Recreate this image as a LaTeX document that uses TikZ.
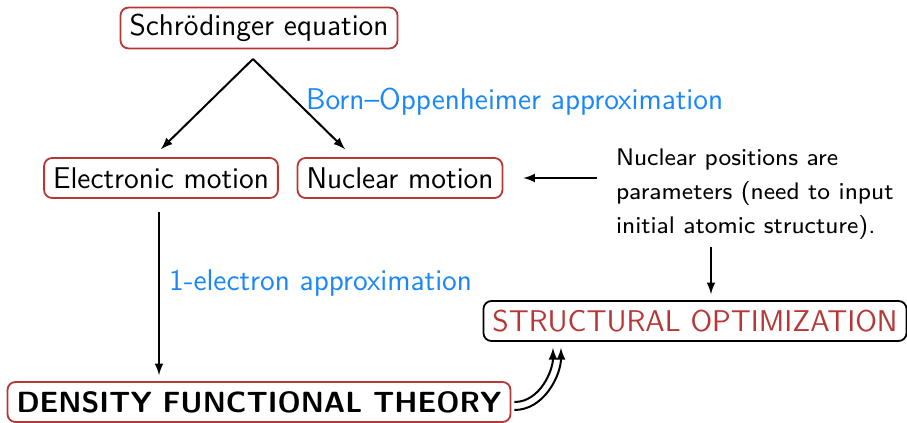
\documentclass[tikz,border=0pt]{standalone}
\usepackage{fontspec}
\usepackage{tikz}
\usetikzlibrary{arrows, positioning, calc}
\usepackage{xcolor}

\newfontfamily\boxfont[BoldFont=lmsans10-bold.otf, Ligatures=TeX]{lmsans12-regular.otf}
\newfontfamily\notefont[Ligatures=TeX]{lmsans8-regular.otf}

\definecolor{boxred}{RGB}{183,55,55}
\definecolor{apxblue}{RGB}{25,135,250}

\begin{document}
\begin{tikzpicture}[
    x=0.5pt, y=-0.5pt,
    every node/.style={font=\boxfont\fontsize{15}{17}\selectfont},
    box/.style={draw=#1, rounded corners=4pt, line width=0.9pt, inner xsep=4.5pt, minimum height=20pt},
    box/.default=boxred,
    apx/.style={text=apxblue, anchor=west},
    note/.style={font=\notefont\fontsize{12}{17}\selectfont, align=left, anchor=west},
    arr/.style={-latex, line width=1pt},
]
    \useasboundingbox (0,0) rectangle (907,423);

    % Main chain
    \node[box] (schr) at (259,28) {Schrödinger equation};
    \node[box] (elec) at (161,178) {Electronic motion};
    \node[box] (nucl) at (400,178) {Nuclear motion};
    \node[box, font=\boxfont\bfseries\fontsize{14.6}{17}\selectfont] (dft) at (259,402) {DENSITY FUNCTIONAL THEORY};
    \node[box=black, text=boxred] (struct) at (695,321) {STRUCTURAL OPTIMIZATION};

    % Approximations
    \node[apx] (bo) at (299,102) {Born–Oppenheimer approximation};
    \node[apx] (one) at (162,283) {1-electron approximation};

    % Remark on the nuclei
    \node[note] (rem) at (609,194) {Nuclear positions are\\parameters (need to input\\initial atomic structure).};

    % Arrows
    \coordinate (split) at (253,59);
    \draw[arr] (split) -- ([yshift=4pt]elec.north);
    \draw[arr] (split) -- ([xshift=-27.5pt, yshift=4pt]nucl.north);
    \draw[arr, shorten <=6.5pt, shorten >=3pt] ([xshift=-1pt]elec.south) -- ([xshift=-1pt]elec.south |- dft.north);
    \draw[arr, shorten <=6pt, shorten >=10pt] (rem.west |- nucl.east) -- (nucl.east);
    \draw[arr, shorten <=0.5pt, shorten >=3pt] ([xshift=8pt]struct.north |- rem.south) -- ([xshift=8pt]struct.north);
    \draw[arr, shorten <=1.5pt, shorten >=3pt] (dft.east) to[out=0, in=-90] ([xshift=-71pt]struct.south);
    \draw[arr, shorten <=1.5pt, shorten >=3pt] ([yshift=-4pt]dft.east) to[out=0, in=-90] ([xshift=-67pt]struct.south);
\end{tikzpicture}
\end{document}
